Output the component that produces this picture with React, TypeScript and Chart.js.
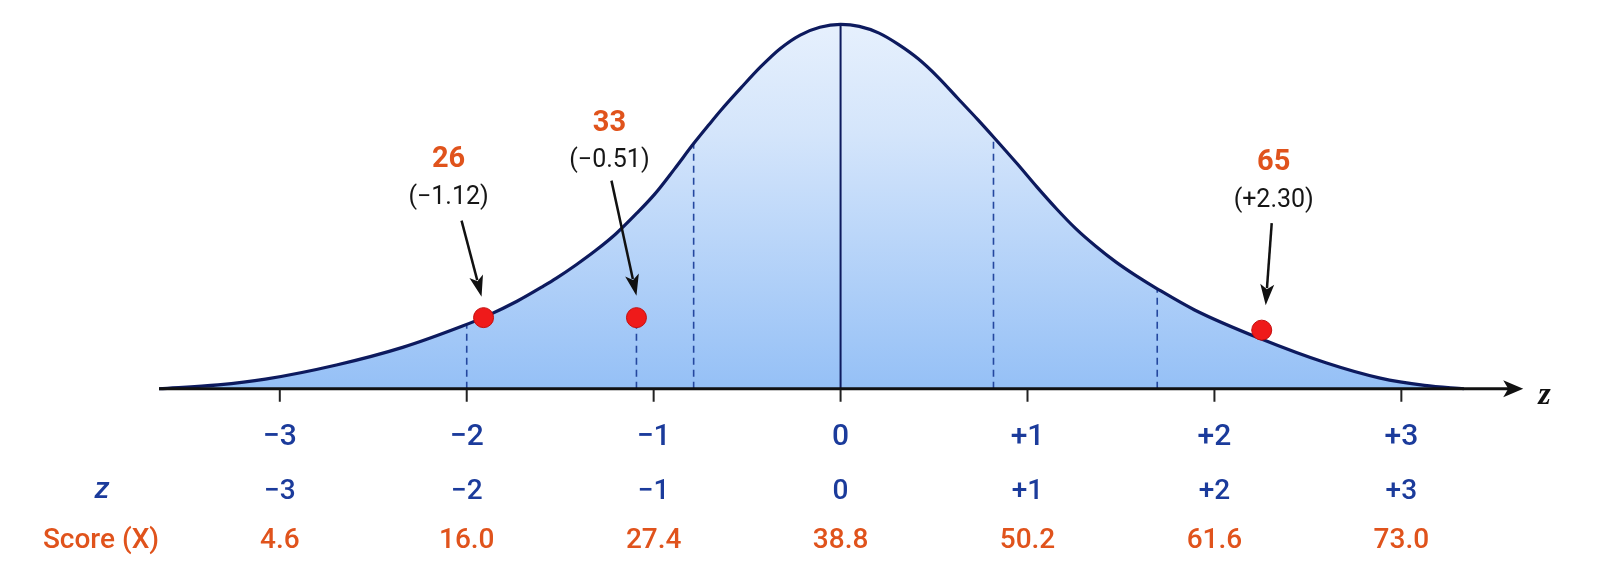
import React, { useEffect, useRef } from "react";
import { Chart, registerables } from "chart.js";

Chart.register(...registerables);

// ---- data ----
// normal curve samples: z position and height (density units)
const curveZ = [
  -3.646, -3.33, -3.077, -2.697, -2.343, -2.026, -1.9, -1.731, -1.588, -1.52,
  -1.414, -1.309, -1.203, -1.098, -0.992, -0.887, -0.786, -0.707, -0.639, -0.533,
  -0.427, -0.322, -0.216, -0.111, 0, 0.1, 0.206, 0.311, 0.417, 0.522,
  0.628, 0.734, 0.818, 0.945, 1.05, 1.156, 1.261, 1.367, 1.472, 1.578,
  1.694, 1.894, 2.248, 2.596, 2.887, 3.124, 3.335,
];
const curveDensity = [
  0, 0.0042, 0.0105, 0.026, 0.0453, 0.0684, 0.079, 0.0958, 0.1126, 0.1211,
  0.1358, 0.1516, 0.1695, 0.1906, 0.2137, 0.2411, 0.2685, 0.2885, 0.3053, 0.3295,
  0.3527, 0.3727, 0.3874, 0.3959, 0.399, 0.3969, 0.3895, 0.3769, 0.3611, 0.3411,
  0.3179, 0.2948, 0.2758, 0.2464, 0.2211, 0.1969, 0.1748, 0.1558, 0.139, 0.1242,
  0.1095, 0.0863, 0.0547, 0.0284, 0.0116, 0.0037, 0,
];
const peakDensity = 0.399;

// axis ticks and the two label rows under it
const tickZ = [-3, -2, -1, 0, 1, 2, 3];
const tickLabels = ["−3", "−2", "−1", "0", "+1", "+2", "+3"];
const zRowLabels = ["−3", "−2", "−1", "0", "+1", "+2", "+3"];
const scoreRowLabels = ["4.6", "16.0", "27.4", "38.8", "50.2", "61.6", "73.0"];

// highlighted scores
const markerZ = [-1.91, -1.092, 2.253];
const markerDensity = [0.0779, 0.0779, 0.0642];
const markerScores = ["26", "33", "65"];
const markerZText = ["(−1.12)", "(−0.51)", "(+2.30)"];

// dashed guide lines
const guideZ = [-2, -1.092, -0.786, 0.818, 1.694];
const guideTop = [0.0695, 0.0779, 0.2685, 0.2758, 0.1095];

// axis extent (z)
const axisStart = -3.646;
const axisEnd = 3.652;

// ---- view / style ----
const W = 1619;
const H = 567;
const X_MIN = -4.438;
const X_MAX = 4.1055;
const Y_MIN = -0.18318;
const Y_MAX = 0.41374;

const NAVY = "#0d1a5e";
const GUIDE = "#24479f";
const BLUE_TXT = "#1b3b9b";
const ORANGE = "#e0531c";
const SANS = "Roboto, 'DejaVu Sans', sans-serif";

const ANNOT = [
  { dx: -35, scoreBase: -151, zBase: -114, ax0: -22, ay0: -97, ax1: -2, ay1: -21 },
  { dx: -27, scoreBase: -187, zBase: -151, ax0: -25, ay0: -137, ax1: 0, ay1: -22 },
  { dx: 12, scoreBase: -160, zBase: -123, ax0: 10, ay0: -107, ax1: 4, ay1: -25 },
];

function drawArrow(ctx: CanvasRenderingContext2D, x0: number, y0: number, x1: number, y1: number) {
  const ang = Math.atan2(y1 - y0, x1 - x0);
  const head = 21;
  const half = 7;
  const bx = x1 - head * Math.cos(ang);
  const by = y1 - head * Math.sin(ang);
  ctx.strokeStyle = "#111";
  ctx.fillStyle = "#111";
  ctx.lineWidth = 2.5;
  ctx.beginPath();
  ctx.moveTo(x0, y0);
  ctx.lineTo(bx + 4 * Math.cos(ang), by + 4 * Math.sin(ang));
  ctx.stroke();
  ctx.beginPath();
  ctx.moveTo(x1, y1);
  ctx.lineTo(bx + half * Math.sin(ang), by - half * Math.cos(ang));
  ctx.lineTo(bx + 5 * Math.cos(ang), by + 5 * Math.sin(ang));
  ctx.lineTo(bx - half * Math.sin(ang), by + half * Math.cos(ang));
  ctx.closePath();
  ctx.fill();
}

const overlayPlugin = {
  id: "overlay",
  afterDatasetsDraw(chart: any) {
    const { ctx, scales } = chart;
    const xs = scales.x;
    const ys = scales.y;
    const y0 = ys.getPixelForValue(0);
    ctx.save();

    // axis line with arrow
    const xa = xs.getPixelForValue(axisStart);
    const xb = xs.getPixelForValue(axisEnd);
    ctx.strokeStyle = "#111";
    ctx.lineWidth = 3;
    ctx.beginPath();
    ctx.moveTo(xa, y0);
    ctx.lineTo(xb - 12, y0);
    ctx.stroke();
    ctx.fillStyle = "#111";
    ctx.beginPath();
    ctx.moveTo(xb, y0);
    ctx.lineTo(xb - 20, y0 - 8.5);
    ctx.lineTo(xb - 15, y0);
    ctx.lineTo(xb - 20, y0 + 8.5);
    ctx.closePath();
    ctx.fill();

    // axis name
    ctx.font = "italic bold 32px 'Liberation Serif', 'DejaVu Serif', serif";
    ctx.textAlign = "left";
    ctx.textBaseline = "alphabetic";
    ctx.fillText("z", xb + 15, y0 + 15);

    // ticks
    ctx.strokeStyle = "#222";
    ctx.lineWidth = 2;
    tickZ.forEach((z) => {
      const px = xs.getPixelForValue(z);
      ctx.beginPath();
      ctx.moveTo(px, y0 + 1);
      ctx.lineTo(px, y0 + 13);
      ctx.stroke();
    });

    // label rows
    ctx.textAlign = "center";
    ctx.fillStyle = BLUE_TXT;
    ctx.font = `500 30px ${SANS}`;
    tickZ.forEach((z, i) => ctx.fillText(tickLabels[i], xs.getPixelForValue(z), y0 + 56));
    ctx.font = `500 28px ${SANS}`;
    tickZ.forEach((z, i) => ctx.fillText(zRowLabels[i], xs.getPixelForValue(z), y0 + 110));
    ctx.font = `italic 500 30px ${SANS}`;
    ctx.fillText("z", 102, y0 + 109);
    ctx.fillStyle = ORANGE;
    ctx.font = `500 28px ${SANS}`;
    tickZ.forEach((z, i) => ctx.fillText(scoreRowLabels[i], xs.getPixelForValue(z), y0 + 159));
    ctx.fillText("Score (X)", 101, y0 + 159);

    // annotations
    markerZ.forEach((z, i) => {
      const a = ANNOT[i];
      const px = xs.getPixelForValue(z);
      const py = ys.getPixelForValue(markerDensity[i]);
      ctx.textAlign = "center";
      ctx.fillStyle = ORANGE;
      ctx.font = `bold 29px ${SANS}`;
      ctx.fillText(markerScores[i], px + a.dx, py + a.scoreBase);
      ctx.fillStyle = "#161616";
      ctx.font = `400 25px ${SANS}`;
      ctx.fillText(markerZText[i], px + a.dx, py + a.zBase);
      drawArrow(ctx, px + a.ax0, py + a.ay0, px + a.ax1, py + a.ay1);
    });

    ctx.restore();
  },
};

export default function App() {
  const ref = useRef<HTMLCanvasElement | null>(null);

  useEffect(() => {
    if (!ref.current) return;
    const curve = curveZ.map((z, i) => ({ x: z, y: curveDensity[i] }));
    const markers = markerZ.map((z, i) => ({ x: z, y: markerDensity[i] }));
    const guides = guideZ.map((z, i) => ({
      type: "line",
      data: [
        { x: z, y: 0 },
        { x: z, y: guideTop[i] },
      ],
      borderColor: GUIDE,
      borderWidth: 1.6,
      borderDash: [7, 5],
      pointRadius: 0,
      showLine: true,
      fill: false,
    }));

    const chart = new Chart(ref.current, {
      type: "scatter",
      data: {
        datasets: [
          {
            data: markers,
            pointRadius: 10,
            pointHoverRadius: 10,
            pointBackgroundColor: "#ef1a1a",
            pointBorderColor: "#c40f0f",
            pointBorderWidth: 1,
            showLine: false,
          },
          {
            data: curve,
            showLine: true,
            borderColor: NAVY,
            borderWidth: 3.2,
            pointRadius: 0,
            cubicInterpolationMode: "monotone",
            fill: "origin",
            backgroundColor: (ctx: any) => {
              const c = ctx.chart;
              const area = c.chartArea;
              if (!area) return "#c0d8f8";
              const ys = c.scales.y;
              const g = c.ctx.createLinearGradient(0, ys.getPixelForValue(peakDensity), 0, ys.getPixelForValue(0));
              g.addColorStop(0, "#e6f0fd");
              g.addColorStop(0.3, "#d4e5fb");
              g.addColorStop(1, "#95c0f6");
              return g;
            },
          },
          {
            data: [
              { x: 0, y: 0 },
              { x: 0, y: peakDensity },
            ],
            showLine: true,
            borderColor: NAVY,
            borderWidth: 2,
            pointRadius: 0,
            fill: false,
          },
          ...guides,
        ] as any,
      },
      options: {
        animation: false,
        responsive: false,
        maintainAspectRatio: false,
        layout: { padding: 0 },
        events: [],
        plugins: {
          legend: { display: false },
          tooltip: { enabled: false },
          title: { display: false },
          filler: { drawTime: "beforeDatasetsDraw" },
        } as any,
        scales: {
          x: { type: "linear", min: X_MIN, max: X_MAX, display: false },
          y: { type: "linear", min: Y_MIN, max: Y_MAX, display: false },
        },
      },
      plugins: [overlayPlugin],
    });
    return () => chart.destroy();
  }, []);

  return (
    <div style={{ position: "fixed", left: 0, top: 0, width: W, height: H, background: "#fff" }}>
      <canvas ref={ref} width={W} height={H} style={{ width: W, height: H, display: "block" }} />
    </div>
  );
}
